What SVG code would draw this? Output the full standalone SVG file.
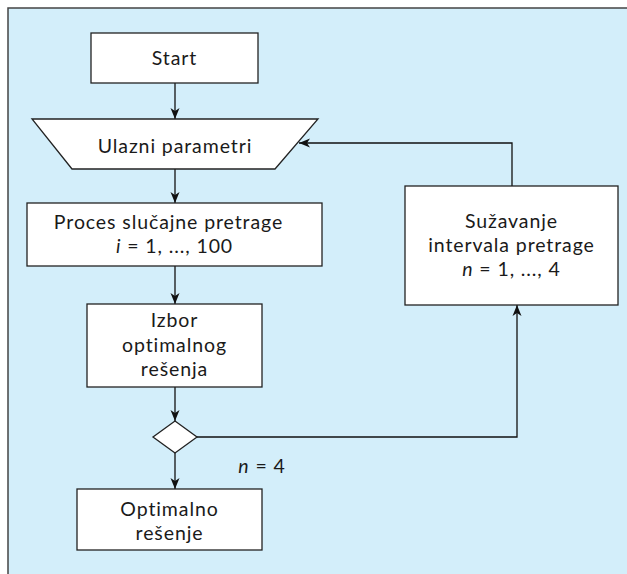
<svg xmlns="http://www.w3.org/2000/svg" width="627" height="574" viewBox="0 0 627 574">
<defs>
<marker id="ah" markerUnits="userSpaceOnUse" markerWidth="12" markerHeight="10" refX="11" refY="5" orient="auto">
<path d="M0,0.5 L11,5 L0,9.5 L3,5 Z" fill="#111"/>
</marker>
<style>
.box{fill:#fff;stroke:#222;stroke-width:1.3}
.con{fill:none;stroke:#111;stroke-width:1.3}
text{font-family:Lato,"Open Sans","DejaVu Sans",sans-serif;font-size:19.5px;letter-spacing:0.9px;fill:#1a1a1a;text-anchor:middle}
.it{font-style:italic}
</style>
</defs>
<rect x="0" y="0" width="627" height="574" fill="#fff"/>
<rect x="8" y="8" width="640" height="600" fill="#d3eefa" stroke="#444" stroke-width="1.5"/>
<g id="connectors">
<line class="con" x1="175" y1="83" x2="175" y2="119" marker-end="url(#ah)"/>
<line class="con" x1="175" y1="169" x2="175" y2="203" marker-end="url(#ah)"/>
<line class="con" x1="175" y1="266" x2="175" y2="304" marker-end="url(#ah)"/>
<line class="con" x1="175" y1="387" x2="175" y2="421" marker-end="url(#ah)"/>
<line class="con" x1="175" y1="453" x2="175" y2="489" marker-end="url(#ah)"/>
<polyline class="con" points="197,437 517,437 517,305" marker-end="url(#ah)"/>
<polyline class="con" points="512,186 512,143 299,143" marker-end="url(#ah)"/>
<text x="262" y="473"><tspan class="it">n</tspan> = 4</text>
</g>
<g id="start">
<rect class="box" x="91" y="33" width="167" height="50"/>
<text x="174.5" y="65">Start</text>
</g>
<g id="ulazni">
<polygon class="box" points="32,119 318,119 275,169 72,169"/>
<text x="175" y="153">Ulazni parametri</text>
</g>
<g id="proces">
<rect class="box" x="27" y="203" width="295" height="63"/>
<text><tspan x="168.5" y="229">Proces slučajne pretrage</tspan><tspan x="174.5" y="253"><tspan class="it">i</tspan> = 1, ..., 100</tspan></text>
</g>
<g id="izbor">
<rect class="box" x="87" y="304" width="175" height="83"/>
<text><tspan x="174.5" y="327">Izbor</tspan><tspan x="174.5" y="352">optimalnog</tspan><tspan x="174.5" y="376">rešenja</tspan></text>
</g>
<g id="odluka">
<polygon class="box" points="175,421 197,437 175,453 153,437"/>
</g>
<g id="optimalno">
<rect class="box" x="77" y="489" width="185" height="61"/>
<text><tspan x="169.5" y="516">Optimalno</tspan><tspan x="169.5" y="540">rešenje</tspan></text>
</g>
<g id="suzavanje">
<rect class="box" x="405" y="186" width="213" height="119"/>
<text><tspan x="511.5" y="228">Sužavanje</tspan><tspan x="511.5" y="252">intervala pretrage</tspan><tspan x="511.5" y="276"><tspan class="it">n</tspan> = 1, ..., 4</tspan></text>
</g>
</svg>
